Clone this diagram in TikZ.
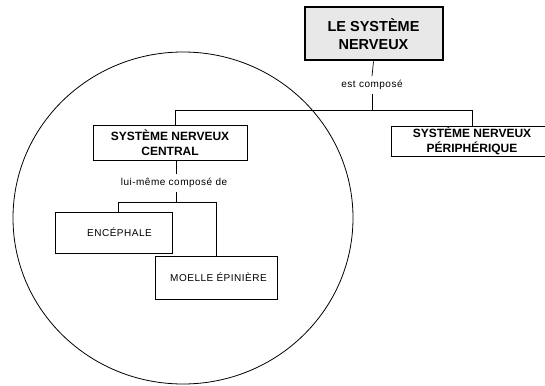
\documentclass[tikz,border=0pt]{standalone}
\usepackage{fontspec}
\setmainfont{Liberation Sans}
\newfontfamily\spacedfont[LetterSpace=5]{Liberation Sans}
\begin{document}
\begin{tikzpicture}[x=1pt,y=-1pt,
  conn/.style={draw=black, line width=0.7pt},
  catbox/.style={draw=black, line width=0.8pt, fill=white, inner sep=0pt, align=center,
    font=\fontsize{12}{15}\selectfont\bfseries},
  partbox/.style={draw=black, line width=0.8pt, fill=white, inner sep=0pt, align=center,
    font=\spacedfont\fontsize{10}{12}\selectfont},
  linklabel/.style={inner xsep=1pt, inner ysep=4pt, font=\spacedfont\fontsize{10}{12}\selectfont}]
\useasboundingbox (0,0) rectangle (545,385);
\fill[white] (0,0) rectangle (545,385);
% circle around the central nervous system
\draw[line width=0.8pt] (183,218) ellipse [x radius=170pt, y radius=166pt];
% nodes
\node[draw=black, line width=2pt, fill=black!9, inner sep=0pt, align=center,
  minimum width=138pt, minimum height=53pt,
  font=\fontsize{14.5}{18}\selectfont\bfseries] (top) at (373.5,34) {LE SYSTÈME\\NERVEUX};
\node[linklabel] (est) at (372,85) {est composé};
\node[catbox, minimum width=154pt, minimum height=35pt] (snc) at (170,142.5) {SYSTÈME NERVEUX\\CENTRAL};
\node[catbox, minimum width=162pt, minimum height=30pt] (snp) at (472,141) {SYSTÈME NERVEUX\\PÉRIPHÉRIQUE};
\node[linklabel] (lui) at (174,183) {lui-même composé de};
\node[partbox, minimum width=117pt, minimum height=41pt] (enc) at (113.5,232.5) {\hspace*{12pt}ENCÉPHALE};
\node[partbox, minimum width=122pt, minimum height=43pt] (moe) at (216,277.5) {\hspace*{5pt}MOELLE ÉPINIÈRE};
% junction points
\coordinate (j1) at (372,110);
\coordinate (jl) at (175,110);
\coordinate (jr) at (472,110);
\coordinate (k1) at (176,202);
\coordinate (kl) at (118,202);
\coordinate (kr) at (216,202);
% connectors
\draw[conn] (top.south) -- (est.north);
\draw[conn] (est.south) -- (j1);
\draw[conn] (jl) -- (jr);
\draw[conn] (jl) -- (jl |- snc.north);
\draw[conn] (jr) -- (jr |- snp.north);
\draw[conn] (snc.south -| 176,0) -- (lui.north -| 176,0);
\draw[conn] (lui.south -| k1) -- (k1);
\draw[conn] (kl) -- (kr);
\draw[conn] (kl) -- (kl |- enc.north);
\draw[conn] (kr) -- (moe.north);
\end{tikzpicture}
\end{document}
